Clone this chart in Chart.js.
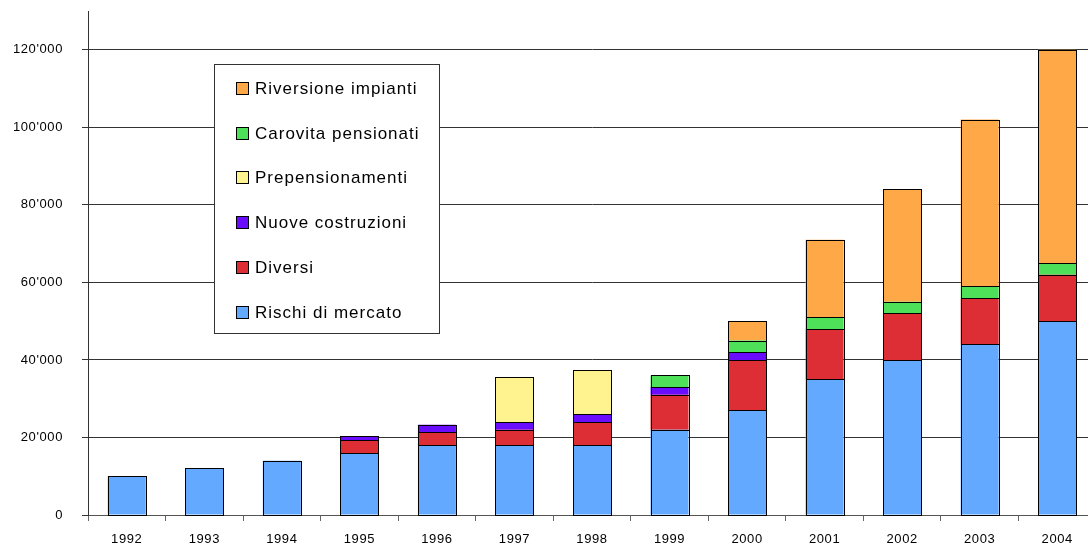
<!DOCTYPE html>
<html>
<head>
<meta charset="utf-8">
<script src="https://cdn.jsdelivr.net/npm/chart.js@4/dist/chart.umd.min.js"></script>
<style>
html, body { margin: 0; padding: 0; background: #fff; overflow: hidden; }
#wrap { width: 1096px; height: 545px; }
</style>
</head>
<body>
<div id="wrap"><canvas id="myChart" width="1096" height="545"></canvas></div>
<script>
// Accantonamenti per anno (valori in migliaia)
var anni = ['1992', '1993', '1994', '1995', '1996', '1997', '1998', '1999', '2000', '2001', '2002', '2003', '2004'];
var rischiMercato = [10000, 12000, 14000, 16000, 18000, 18000, 18000, 22000, 27000, 35000, 40000, 44000, 50000];
var diversi = [null, null, null, 3300, 3300, 4000, 6000, 9000, 13000, 13000, 12000, 12000, 12000];
var nuoveCostruzioni = [null, null, null, 1000, 2000, 2000, 2000, 2000, 2000, null, null, null, null];
var prepensionamenti = [null, null, null, null, null, 11500, 11400, null, null, null, null, null, null];
var carovitaPensionati = [null, null, null, null, null, null, null, 3000, 3000, 3000, 3000, 3000, 3000];
var riversioneImpianti = [null, null, null, null, null, null, null, null, 5000, 20000, 29000, 43000, 55000];
var yTicks = [0, 20000, 40000, 60000, 80000, 100000, 120000];

var fontBase = '"Liberation Sans", Arial, sans-serif';

function migliaia(v) {
    return String(v).replace(/\B(?=(\d{3})+(?!\d))/g, "'");
}

function serie(label, data, colore) {
    return {
        label: label,
        data: data,
        backgroundColor: colore,
        borderWidth: 0
    };
}

// bordo nero netto attorno a ogni segmento delle pile
var bordiBarre = {
    id: 'bordiBarre',
    afterDatasetsDraw: function(chart) {
        var ctx = chart.ctx;
        ctx.save();
        ctx.strokeStyle = '#000';
        ctx.lineWidth = 1;
        chart.data.datasets.forEach(function(d, i) {
            chart.getDatasetMeta(i).data.forEach(function(bar, j) {
                if (d.data[j] == null) return;
                var l = Math.round(bar.x - bar.width / 2);
                var r = Math.round(bar.x + bar.width / 2);
                var t = Math.round(Math.min(bar.y, bar.base));
                var b = Math.round(Math.max(bar.y, bar.base));
                ctx.strokeRect(l + 0.5, t + 0.5, r - l, b - t);
            });
        });
        ctx.restore();
    }
};

// legenda incassata nel grafico, ordine inverso rispetto alla pila
var legendaBox = {
    id: 'legendaBox',
    beforeDraw: function(chart) {
        chart.ctx.letterSpacing = '0.6px';
    },
    afterDraw: function(chart) {
        var ctx = chart.ctx;
        ctx.save();
        ctx.fillStyle = '#fff';
        ctx.fillRect(214, 64, 226, 270);
        ctx.strokeStyle = '#333';
        ctx.lineWidth = 1;
        ctx.strokeRect(214.5, 64.5, 225, 269);
        ctx.font = '17px ' + fontBase;
        ctx.textBaseline = 'middle';
        ctx.letterSpacing = '1px';
        var ds = chart.data.datasets.slice().reverse();
        ds.forEach(function(d, i) {
            var y = Math.round(88 + i * 44.7);
            ctx.fillStyle = d.backgroundColor;
            ctx.fillRect(236, y - 6, 13, 13);
            ctx.strokeStyle = '#000';
            ctx.strokeRect(236.5, y - 5.5, 12, 12);
            ctx.fillStyle = '#000';
            ctx.fillText(d.label, 255, y + 1);
        });
        ctx.restore();
    }
};

var ctx = document.getElementById('myChart').getContext('2d');
var chart = new Chart(ctx, {
    type: 'bar',
    data: {
        labels: anni,
        datasets: [
            serie('Rischi di mercato', rischiMercato, '#63A9FF'),
            serie('Diversi', diversi, '#DD2E35'),
            serie('Nuove costruzioni', nuoveCostruzioni, '#6A0DFF'),
            serie('Prepensionamenti', prepensionamenti, '#FFF38F'),
            serie('Carovita pensionati', carovitaPensionati, '#4FE05A'),
            serie('Riversione impianti', riversioneImpianti, '#FFA848')
        ]
    },
    options: {
        responsive: false,
        animation: false,
        layout: { padding: { top: 11, right: 0, left: 0, bottom: 0 } },
        categoryPercentage: 1,
        barPercentage: 0.49,
        plugins: {
            legend: { display: false },
            tooltip: { enabled: false }
        },
        scales: {
            x: {
                stacked: true,
                grid: { drawOnChartArea: false, drawTicks: true, tickLength: 6, color: '#666', offset: true },
                border: { color: '#555' },
                ticks: { color: '#000', padding: 11, font: { family: fontBase, size: 13 }, maxRotation: 0 },
                afterFit: function(scale) {
                    scale.height = 30;
                    scale.paddingLeft = 0;
                    scale.paddingRight = 0;
                }
            },
            y: {
                stacked: true,
                min: 0,
                max: 130000,
                grid: { color: '#333', tickLength: 6 },
                border: { color: '#333' },
                ticks: {
                    color: '#000',
                    padding: 19,
                    font: { family: fontBase, size: 13 },
                    callback: function(v) { return migliaia(v); }
                },
                afterBuildTicks: function(scale) {
                    scale.ticks = yTicks.map(function(v) { return { value: v }; });
                },
                afterFit: function(scale) {
                    scale.width = 88;
                    scale.paddingTop = 0;
                    scale.paddingBottom = 0;
                }
            }
        }
    },
    plugins: [bordiBarre, legendaBox]
});
</script>
</body>
</html>
